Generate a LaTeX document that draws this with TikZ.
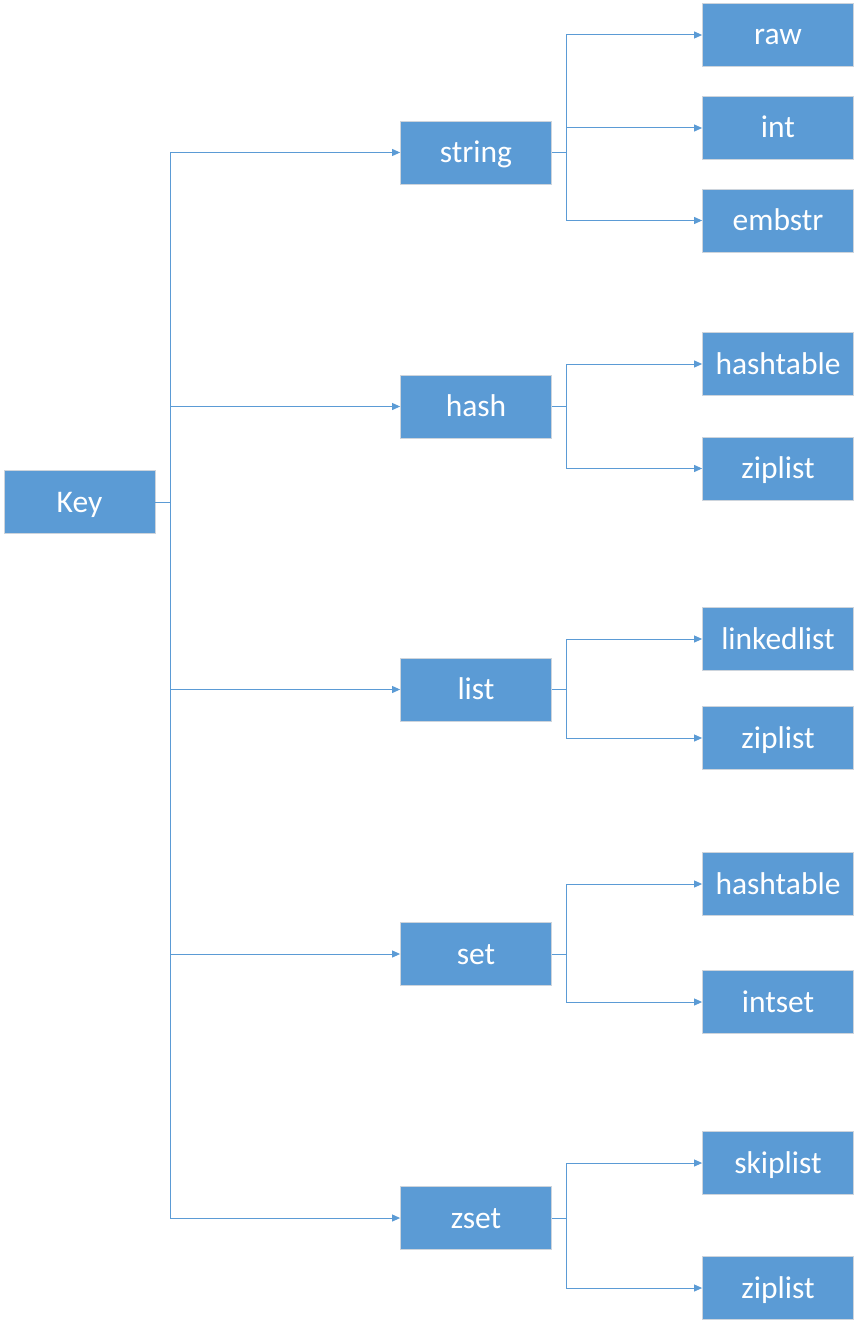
\documentclass[tikz,border=0pt]{standalone}
\usepackage{fontspec}
\setmainfont{Carlito}
\usetikzlibrary{arrows.meta}
\definecolor{boxblue}{RGB}{91,155,213}
\definecolor{boxedge}{RGB}{205,212,220}
\tikzset{
  box/.style={rectangle, fill=boxblue, draw=boxedge, line width=0.8pt, text=white,
    minimum width=151pt, minimum height=63pt, inner sep=0pt,
    text height=24pt, text depth=4pt,
    font=\fontsize{31.5}{36}\selectfont},
  conn/.style={draw=boxblue, line width=1pt, -{Triangle[length=8pt,width=7pt]}},
  trunk/.style={draw=boxblue, line width=1pt}
}
\begin{document}
\begin{tikzpicture}[x=1pt,y=-1pt]
\useasboundingbox (0,0) rectangle (859,1329);
% root
\node[box] (key) at (79.5,502) {Key};
% middle
\node[box] (string) at (476,152.5) {string};
\node[box] (hash) at (476,406.5) {hash};
\node[box] (list) at (476,689.5) {list};
\node[box] (set) at (476,954) {set};
\node[box] (zset) at (476,1218) {zset};
% leaves
\node[box] (raw) at (778,35) {raw};
\node[box] (int) at (778,128) {int};
\node[box] (embstr) at (778,220.5) {embstr};
\node[box] (hht) at (778,364) {hashtable};
\node[box] (hzl) at (778,468.5) {ziplist};
\node[box] (lll) at (778,639) {linkedlist};
\node[box] (lzl) at (778,738) {ziplist};
\node[box] (sht) at (778,884) {hashtable};
\node[box] (sis) at (778,1002) {intset};
\node[box] (zsl) at (778,1163) {skiplist};
\node[box] (zzl) at (778,1288) {ziplist};
% branch points
\coordinate (kb) at (170,502);
\coordinate (sb) at (566,152.5);
\coordinate (hb) at (566,406.5);
\coordinate (lb) at (566,689.5);
\coordinate (eb) at (566,954);
\coordinate (zb) at (566,1218);
% Key to types
\draw[trunk] (key.east) -- (kb);
\foreach \t in {string,hash,list,set,zset}{
  \draw[conn] (kb) |- (\t.west);
}
% types to encodings
\draw[trunk] (string.east) -- (sb);
\foreach \t in {raw,int,embstr}{\draw[conn] (sb) |- (\t.west);}
\draw[trunk] (hash.east) -- (hb);
\foreach \t in {hht,hzl}{\draw[conn] (hb) |- (\t.west);}
\draw[trunk] (list.east) -- (lb);
\foreach \t in {lll,lzl}{\draw[conn] (lb) |- (\t.west);}
\draw[trunk] (set.east) -- (eb);
\foreach \t in {sht,sis}{\draw[conn] (eb) |- (\t.west);}
\draw[trunk] (zset.east) -- (zb);
\foreach \t in {zsl,zzl}{\draw[conn] (zb) |- (\t.west);}
\end{tikzpicture}
\end{document}
